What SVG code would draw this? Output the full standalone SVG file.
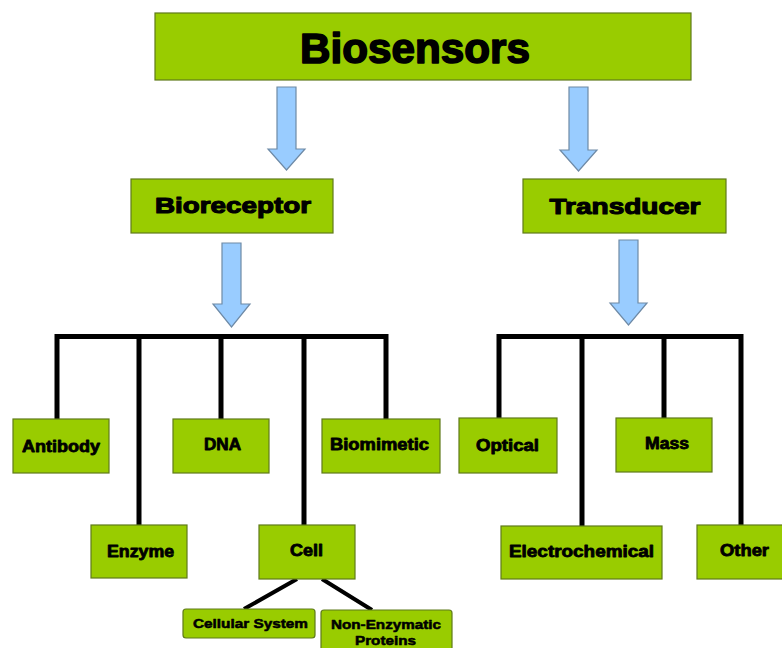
<svg xmlns="http://www.w3.org/2000/svg" width="782" height="648" viewBox="0 0 782 648">
<style>
.box{fill:#99cc00;stroke:#5f7a1a;stroke-width:1.2}
.arrow{fill:#99ccff;stroke:#6e8aa6;stroke-width:1.2}
.t{font-family:"Liberation Sans",Arial,sans-serif;font-weight:bold;fill:#000;stroke:#000;text-anchor:middle;stroke-linejoin:round}
.big{font-size:42px;stroke-width:1.6}
.mid{font-size:22px;stroke-width:1.1}
.sm{font-size:16px;stroke-width:0.8}
.xs{font-size:13px;stroke-width:0.55}
.ln{stroke:#000;stroke-width:5;fill:none}
.ln2{stroke:#000;stroke-width:4;fill:none}
</style>
<rect width="782" height="648" fill="#fff"/>
<g id="connectors">
<polygon class="arrow" points="277,87 296,87 296,149 305,149 286.5,170 268,149 277,149"/>
<polygon class="arrow" points="569,87 588,87 588,150 597,150 578.5,171 560,150 569,150"/>
<polygon class="arrow" points="222,243 241,243 241,304 250,304 231.5,327 213,304 222,304"/>
<polygon class="arrow" points="619,240 638,240 638,303 647,303 628.5,325 610,303 619,303"/>
<path class="ln" d="M57,419 V336.5 H386 V419 M139,336.5 V525 M221,336.5 V419 M304,336.5 V525"/>
<path class="ln" d="M499,418 V336.5 H741 V525 M582,336.5 V526 M664,336.5 V418"/>
<path class="ln2" d="M297,579 L244,609 M322,579 L372,610"/>
</g>
<g id="biosensors"><rect class="box" x="155" y="13" width="536" height="67"/><text class="t big" x="415" y="63" textLength="230" lengthAdjust="spacingAndGlyphs">Biosensors</text></g>
<g id="bioreceptor"><rect class="box" x="131" y="179" width="202" height="54"/><text class="t mid" x="233" y="213" textLength="156" lengthAdjust="spacingAndGlyphs">Bioreceptor</text></g>
<g id="transducer"><rect class="box" x="523" y="179" width="203" height="54"/><text class="t mid" x="625" y="214" textLength="151" lengthAdjust="spacingAndGlyphs">Transducer</text></g>
<g id="antibody"><rect class="box" x="13" y="419" width="96" height="54"/><text class="t sm" x="61" y="452" textLength="78" lengthAdjust="spacingAndGlyphs">Antibody</text></g>
<g id="dna"><rect class="box" x="173" y="419" width="96" height="54"/><text class="t sm" x="222.5" y="450" textLength="37" lengthAdjust="spacingAndGlyphs">DNA</text></g>
<g id="biomimetic"><rect class="box" x="322" y="419" width="118" height="54"/><text class="t sm" x="379.5" y="450" textLength="99" lengthAdjust="spacingAndGlyphs">Biomimetic</text></g>
<g id="enzyme"><rect class="box" x="91" y="525" width="96" height="53"/><text class="t sm" x="140.5" y="557" textLength="67" lengthAdjust="spacingAndGlyphs">Enzyme</text></g>
<g id="cell"><rect class="box" x="259" y="525" width="96" height="54"/><text class="t sm" x="306.5" y="556" textLength="33" lengthAdjust="spacingAndGlyphs">Cell</text></g>
<g id="cellular-system"><rect class="box" x="183" y="609" width="132" height="29" rx="3"/><text class="t xs" x="250.5" y="628" textLength="115" lengthAdjust="spacingAndGlyphs">Cellular System</text></g>
<g id="non-enzymatic"><rect class="box" x="321" y="610" width="131" height="45" rx="3"/><text class="t xs" x="386" y="629" textLength="110" lengthAdjust="spacingAndGlyphs">Non-Enzymatic</text><text class="t xs" x="385.5" y="645" textLength="61" lengthAdjust="spacingAndGlyphs">Proteins</text></g>
<g id="optical"><rect class="box" x="459" y="418" width="98" height="55"/><text class="t sm" x="507.5" y="451" textLength="63" lengthAdjust="spacingAndGlyphs">Optical</text></g>
<g id="mass"><rect class="box" x="616" y="418" width="96" height="54"/><text class="t sm" x="667" y="449" textLength="44" lengthAdjust="spacingAndGlyphs">Mass</text></g>
<g id="electrochemical"><rect class="box" x="501" y="526" width="161" height="53"/><text class="t sm" x="581.5" y="557" textLength="145" lengthAdjust="spacingAndGlyphs">Electrochemical</text></g>
<g id="other"><rect class="box" x="697" y="525" width="90" height="54"/><text class="t sm" x="744.5" y="556" textLength="49" lengthAdjust="spacingAndGlyphs">Other</text></g>
</svg>
